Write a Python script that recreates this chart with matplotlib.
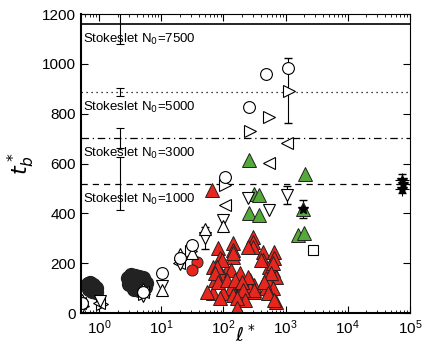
import numpy as np
import matplotlib
matplotlib.use('Agg')
from matplotlib import pyplot as plt

plt.rcParams['font.family'] = ['Liberation Sans', 'DejaVu Sans']
plt.rcParams['mathtext.fontset'] = 'dejavusans'

# Stokeslet reference levels #
STOKES_T = [1160, 888, 704, 520]
STOKES_ERR = [80, 16, 40, 108]
STOKES_N = ['7500', '5000', '3000', '1000']
STOKES_STYLE = ['-', (0, (1, 3)), (0, (6, 3, 1, 3)), (0, (5, 4))]
STOKES_L = 2.2

# Red filled triangles #
red_l = [66, 83, 140, 145, 140, 89, 69, 116, 96, 74, 175, 210, 272, 156, 130, 202, 305, 272,
         69, 100, 145, 188, 305, 168, 294, 294, 294, 426, 426, 640, 640, 532, 617, 690, 476,
         532, 476, 617, 532, 690, 96, 140, 80, 74, 130, 188, 244, 83, 116, 156, 202, 244, 395,
         617, 573, 442, 513, 305, 210, 226, 640, 168, 89, 168, 55]
red_t = [492, 260, 280, 252, 224, 220, 184, 172, 152, 132, 140, 132, 132, 120, 100, 104, 112, 100,
         80, 80, 72, 80, 84, 12, 304, 284, 264, 244, 212, 244, 220, 184, 172, 144, 140,
         120, 100, 100, 80, 44, 212, 240, 184, 160, 172, 160, 144, 124, 132, 132, 124, 264, 212,
         200, 160, 124, 80, 92, 92, 52, 52, 60, 60, 20, 84]

# Green filled triangles #
green_l = [262, 2025, 305, 367, 253, 367, 1880, 1560, 1950]
green_t = [616, 560, 476, 472, 400, 392, 416, 312, 320]

# Black filled circles #
black_l = [0.65, 0.72, 0.8, 0.88, 0.68, 0.78, 0.9, 0.74,
           2.9, 3.3, 3.8, 4.4, 5.0, 5.6, 3.0, 3.5, 4.0, 4.6, 5.2, 3.7, 4.3, 3.2, 5.5]
black_t = [115, 120, 112, 100, 95, 88, 85, 104,
           140, 152, 150, 145, 140, 120, 115, 110, 122, 112, 100, 95, 92, 128, 105]

# Open circles #
circ_l = [490, 1075, 253, 104, 0.53, 5.1, 10.4, 20, 31]
circ_t = [960, 984, 828, 548, 40, 84, 160, 220, 272]

# Open triangles #
right_l = [1150, 534, 272, 107, 1.1, 5.3, 30, 0.55]
right_t = [892, 788, 732, 512, 36, 76, 250, 28]
left_l = [1040, 534, 107, 1.0, 5.0, 19, 0.5]
left_t = [684, 604, 432, 40, 84, 200, 40]
down_l = [1040, 534, 244, 100, 51, 10.4, 1.05, 5.1, 20, 0.53]
down_t = [472, 412, 460, 372, 300, 108, 48, 70, 196, 24]
up_l = [100, 51, 10.4, 5.1, 0.53, 31, 20]
up_t = [348, 336, 92, 96, 52, 240, 236]

# Red filled circles #
redc_l = [38, 31]
redc_t = [204, 172]

# Square #
sq_l = [2750]
sq_t = [252]

# Asterisk / plus (far right) #
star_l = [75000, 78000, 76000, 1880]
star_t = [536, 520, 496, 416]

# Marker error bars #
eb_l = [1100, 1040, 1880, 75000, 51]
eb_t = [894, 472, 416, 520, 300]
eb_e = [130, 36, 36, 40, 44]


def plot_figure():
    fig = plt.figure(figsize=(4.23, 3.51), dpi=100)
    ax = fig.add_axes([0.1915, 0.108, 0.969 - 0.1915, 0.852])

    # Stokeslet lines and labels #
    for t, e, n, ls in zip(STOKES_T, STOKES_ERR, STOKES_N, STOKES_STYLE):
        ax.axhline(t, color='k', linestyle=ls, linewidth=0.9 if ls != '-' else 1.2)
        ax.errorbar(STOKES_L, t, yerr=e, color='k', capsize=3, linewidth=0.8, capthick=0.8)
        ax.text(0.54, t - 62, 'Stokeslet N$_0$=' + n, fontsize=9.5, va='center', ha='left')

    ax.errorbar(eb_l, eb_t, yerr=eb_e, fmt='none', ecolor='k', capsize=3, linewidth=0.8)

    ms = 10
    ax.plot(black_l, black_t, 'o', ms=ms, mfc='#222222', mec='#222222')
    ax.plot(red_l, red_t, '^', ms=ms, mfc='#e8261e', mec='#222222', mew=0.7)
    ax.plot(green_l, green_t, '^', ms=ms, mfc='#55a83a', mec='#222222', mew=0.7)
    ax.plot(redc_l, redc_t, 'o', ms=8, mfc='#e8261e', mec='#222222', mew=0.7)
    for lx, ty, mk in [(right_l, right_t, '>'), (left_l, left_t, '<'), (down_l, down_t, 'v'),
                       (up_l, up_t, '^'), (circ_l, circ_t, 'o'), (sq_l, sq_t, 's')]:
        ax.plot(lx, ty, mk, ms=8.5 if mk != 's' else 7, mfc='white', mec='k', mew=0.8)
    ax.plot(star_l, star_t, '*', ms=7, mfc='k', mec='k')
    ax.plot(star_l[:3], star_t[:3], '+', ms=10, color='k', mew=0.8)

    ax.set_xscale('log')
    ax.set_xlim(0.51, 1e5)
    ax.set_ylim(0, 1200)
    ax.set_yticks(np.arange(0, 1201, 200))
    ax.set_xticks([1, 10, 100, 1000, 1e4, 1e5])
    ax.tick_params(which='both', direction='in', top=True, right=True, labelsize=11)
    ax.tick_params(which='major', length=5)
    ax.tick_params(which='minor', length=2.5)
    for s in ['left', 'bottom']:
        ax.spines[s].set_linewidth(1.5)
    for s in ['top', 'right']:
        ax.spines[s].set_linewidth(0.8)

    ax.set_xlabel(r'$\ell^*$', fontsize=14, labelpad=-9)
    ax.set_ylabel(r'$t^*_b$', fontsize=16, labelpad=4)

    fig.savefig('out.png', dpi=100)


if __name__ == '__main__':
    plot_figure()
